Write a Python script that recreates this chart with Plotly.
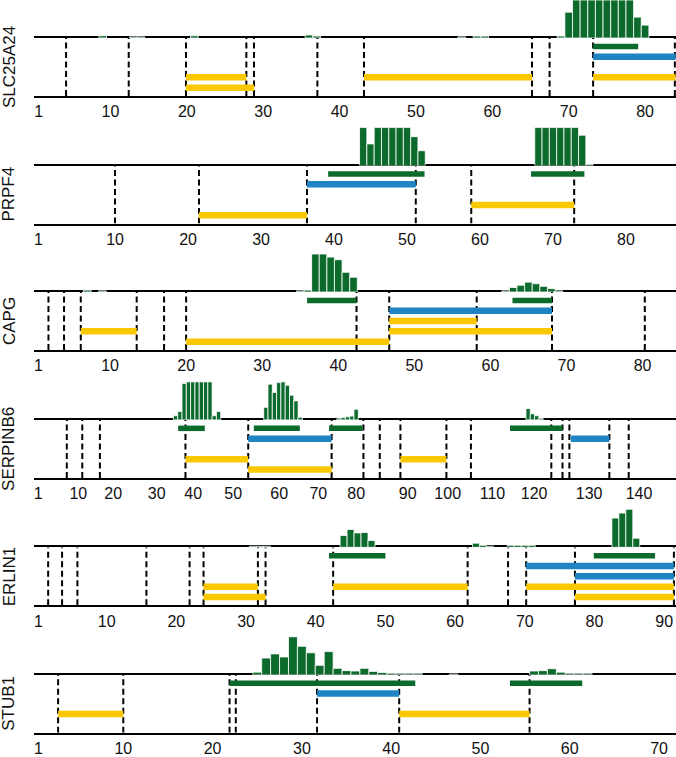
import plotly.graph_objects as go

# ---------------- data ----------------
genes = ["SLC25A24", "PRPF4", "CAPG", "SERPINB6", "ERLIN1", "STUB1"]

# SLC25A24
slc_hist_x = [9, 13, 14, 21, 36, 37, 56, 58, 59, 69, 70, 71, 72, 73, 74, 75, 76, 77, 78, 79, 80]
slc_hist_y = [0.06, 0.03, 0.03, 0.06, 0.08, 0.05, 0.03, 0.05, 0.05, 0.05, 0.68, 1, 1, 1, 1, 1, 1, 1, 1, 0.55, 0.34]
slc_dashes = [4.2, 12.4, 19.9, 27.8, 28.8, 37.1, 43.2, 65.2, 67.5, 73.2, 83.9]
slc_green = [(73.2, 79.1, 5)]
slc_blue = [(73.2, 84.0, 4)]
slc_yellow = [(19.9, 27.8, 2), (19.9, 28.8, 1), (43.2, 65.2, 2), (73.2, 84.0, 2)]

# PRPF4
prp_hist_x = [44, 45, 46, 47, 48, 49, 50, 51, 52, 68, 69, 70, 71, 72, 73, 74, 75]
prp_hist_y = [1, 0.57, 1, 1, 1, 1, 1, 0.76, 0.39, 1, 1, 1, 1, 1, 1, 0.8, 0.03]
prp_dashes = [10.0, 21.5, 36.3, 51.2, 58.8, 72.9]
prp_green = [(39.2, 52.4, 5), (67.0, 74.3, 5)]
prp_blue = [(36.3, 51.2, 4)]
prp_yellow = [(21.5, 36.3, 1), (58.8, 72.9, 2)]

# CAPG
cap_hist_x = [7, 9, 35, 36, 37, 38, 39, 40, 41, 42, 62, 63, 64, 65, 66, 67, 68, 69]
cap_hist_y = [0.05, 0.03, 0.03, 0.05, 1, 1, 0.92, 0.85, 0.52, 0.39, 0.03, 0.12, 0.18, 0.26, 0.22, 0.15, 0.09, 0.03]
cap_dashes = [1.9, 3.95, 6.15, 13.5, 17.1, 20.0, 42.4, 46.7, 58.2, 68.1, 80.3]
cap_green = [(35.9, 42.4, 5), (62.9, 68.1, 5)]
cap_blue = [(46.7, 68.1, 4)]
cap_yellow = [(6.15, 13.5, 2), (20.0, 46.7, 1), (46.7, 58.2, 3), (46.7, 68.1, 2)]

# SERPINB6
ser_hist_x = [33, 34, 35, 36, 37, 38, 39, 40, 41, 42, 43,
              54, 55, 56, 57, 58, 59, 60, 61, 62,
              71, 72, 73, 74, 75, 115, 116, 117, 118]
ser_hist_y = [0.11, 0.22, 0.96, 1, 1, 1, 1, 1, 1, 0.11, 0.22,
              0.33, 0.94, 0.72, 0.98, 1, 0.91, 0.65, 0.5, 0.07,
              0.03, 0.06, 0.08, 0.1, 0.28, 0.3, 0.16, 0.11, 0.04]
ser_dashes = [7.7, 11.3, 15.4, 35.3, 49.9, 69.3, 76.7, 80.5, 85.3, 96.0, 101.7, 120.4, 123.0, 124.6, 133.9, 138.4]
ser_green = [(33.6, 39.8, 5), (51.2, 61.9, 5), (68.7, 76.5, 5), (110.8, 123.0, 5)]
ser_blue = [(49.9, 69.3, 4), (124.95, 133.9, 4)]
ser_yellow = [(35.3, 49.9, 2), (85.3, 96.0, 2), (49.9, 69.3, 1)]

# ERLIN1
erl_hist_x = [31, 32, 33, 44, 45, 46, 47, 48, 63, 64, 65, 68, 69, 70, 71, 83, 84, 85, 86]
erl_hist_y = [0.03, 0.03, 0.03, 0.31, 0.47, 0.38, 0.39, 0.18, 0.11, 0.05, 0.03, 0.05, 0.05, 0.05, 0.05, 0.77, 0.9, 1.0, 0.24]
erl_dashes = [1.6, 3.6, 5.8, 15.7, 21.9, 23.9, 31.7, 32.8, 42.5, 61.8, 67.6, 70.2, 77.2, 91.4]
erl_green = [(41.9, 50.0, 5), (79.9, 88.7, 5)]
erl_blue = [(70.2, 91.4, 4), (77.2, 91.4, 3)]
erl_yellow = [(23.9, 31.7, 2), (23.9, 32.8, 1), (42.5, 61.8, 2), (70.2, 91.4, 2), (77.2, 91.4, 1)]

# STUB1
stu_hist_x = [25, 26, 27, 28, 29, 30, 31, 32, 33, 34, 35, 36, 37, 38, 39, 40, 41, 42, 43, 47,
              56, 57, 58, 59, 60, 61, 62]
stu_hist_y = [0.07, 0.44, 0.55, 0.47, 1.0, 0.75, 0.58, 0.25, 0.61, 0.17, 0.11, 0.1, 0.17, 0.09, 0.06, 0.04,
              0.03, 0.03, 0.03, 0.02, 0.1, 0.11, 0.16, 0.07, 0.04, 0.04, 0.04]
stu_dashes = [2.7, 10.0, 21.9, 22.6, 31.7, 40.9, 55.5]
stu_green = [(21.9, 42.7, 5), (53.3, 61.4, 5)]
stu_blue = [(31.7, 40.9, 4)]
stu_yellow = [(2.7, 10.0, 2), (40.9, 55.5, 2)]

# axis tick labels
ticks_80 = [10, 20, 30, 40, 50, 60, 70, 80]
ticks_140 = [10, 20, 30, 40, 50, 60, 70, 80, 90, 100, 110, 120, 130, 140]
ticks_90 = [10, 20, 30, 40, 50, 60, 70, 80, 90]
ticks_70 = [10, 20, 30, 40, 50, 60, 70]
# positions where the SERPINB6 labels sit in the reference
ser_tick_pos = [10.37, 18.5, 28.6, 37.1, 46.4, 57.1, 66.2, 75.0, 87.0, 96.3, 106.7, 116.4, 129.2, 140.8]

panels = [
    dict(hx=slc_hist_x, hy=slc_hist_y, d=slc_dashes, g=slc_green, b=slc_blue, yl=slc_yellow,
         xr=[0.0, 84.05], one=0.6, ticks=ticks_80, tpos=ticks_80),
    dict(hx=prp_hist_x, hy=prp_hist_y, d=prp_dashes, g=prp_green, b=prp_blue, yl=prp_yellow,
         xr=[-1.1, 86.85], one=-0.5, ticks=ticks_80, tpos=ticks_80),
    dict(hx=cap_hist_x, hy=cap_hist_y, d=cap_dashes, g=cap_green, b=cap_blue, yl=cap_yellow,
         xr=[0.0, 84.4], one=0.6, ticks=ticks_80, tpos=ticks_80),
    dict(hx=ser_hist_x, hy=ser_hist_y, d=ser_dashes, g=ser_green, b=ser_blue, yl=ser_yellow,
         xr=[0.07, 149.4], one=1.07, ticks=ticks_140, tpos=ser_tick_pos),
    dict(hx=erl_hist_x, hy=erl_hist_y, d=erl_dashes, g=erl_green, b=erl_blue, yl=erl_yellow,
         xr=[-0.43, 91.7], one=0.2, ticks=ticks_90, tpos=ticks_90),
    dict(hx=stu_hist_x, hy=stu_hist_y, d=stu_dashes, g=stu_green, b=stu_blue, yl=stu_yellow,
         xr=[0.0, 71.9], one=0.5, ticks=ticks_70, tpos=ticks_70),
]

# ---------------- styling / layout ----------------
W, H = 676, 757
GREEN = "#0b6a2c"
BLUE = "#1f84c4"
YELLOW = "#f9c800"
FONT = "Liberation Sans, Arial, Helvetica, sans-serif"
LEFT_PX = 34
BOX_TOPS = [38.3, 166.7, 294.0, 422.7, 551.0, 679.3]
BOX_H = 58.4
HIST_H = 38.3
YR = [0.18, 5.82]


def py(px):
    return 1 - px / H


fig = go.Figure()
layout = dict(width=W, height=H, margin=dict(l=0, r=0, t=0, b=0),
              paper_bgcolor="white", plot_bgcolor="rgba(0,0,0,0)",
              showlegend=False, font=dict(family=FONT, color="black"))
annotations = []

for i, p in enumerate(panels):
    xn = "" if i == 0 else str(i + 1)
    yb_n = 2 * i + 1
    yh_n = 2 * i + 2
    yb = "" if yb_n == 1 else str(yb_n)
    yh = str(yh_n)
    top = BOX_TOPS[i]
    bot = top + BOX_H
    htop = max(top - HIST_H, 0)

    layout["xaxis" + xn] = dict(
        domain=[LEFT_PX / W, 1], range=p["xr"], anchor="y" + yb,
        showline=True, mirror=True, linecolor="black", linewidth=2,
        showgrid=False, zeroline=False, ticks="",
        tickmode="array", tickvals=[p["one"]] + list(p["tpos"]),
        ticktext=["1"] + [str(t) for t in p["ticks"]],
        tickfont=dict(size=16, family=FONT, color="#111"),
    )
    layout["yaxis" + yb] = dict(
        domain=[py(bot), py(top)], range=YR, anchor="x" + xn,
        showline=False, showgrid=False, zeroline=False, showticklabels=False, ticks="",
    )
    layout["yaxis" + yh] = dict(
        domain=[py(top), py(htop) if htop > 0 else 1.0], range=[0, 1], anchor="x" + xn,
        visible=False,
    )

    # histogram
    fig.add_trace(go.Bar(x=p["hx"], y=[min(v, 1) for v in p["hy"]], width=1,
                         marker=dict(color=GREEN, line=dict(color="white", width=0.8)),
                         xaxis="x" + xn, yaxis="y" + yh, hoverinfo="skip"))
    # dashed lines
    dx, dy = [], []
    for d in p["d"]:
        dx += [d, d, None]
        dy += [YR[0], YR[1], None]
    fig.add_trace(go.Scatter(x=dx, y=dy, mode="lines",
                             line=dict(color="black", width=2, dash="6px,3.5px"),
                             xaxis="x" + xn, yaxis="y" + yb, hoverinfo="skip"))
    # horizontal segments
    for segs, col, wd in ((p["yl"], YELLOW, 6.5), (p["b"], BLUE, 6.5), (p["g"], GREEN, 5.5)):
        sx, sy = [], []
        for s, e, r in segs:
            sx += [s, e, None]
            sy += [r, r, None]
        fig.add_trace(go.Scatter(x=sx, y=sy, mode="lines",
                                 line=dict(color=col, width=wd),
                                 xaxis="x" + xn, yaxis="y" + yb, hoverinfo="skip"))

    annotations.append(dict(text=genes[i], textangle=-90, showarrow=False,
                            xref="paper", yref="paper", x=9 / W, y=py(top + BOX_H / 2),
                            xanchor="center", yanchor="middle",
                            font=dict(size=17, family=FONT, color="#111")))

layout["annotations"] = annotations
fig.update_layout(**layout)
fig.write_html("out.html", config={"displayModeBar": False},
               post_script="document.body.style.margin='0px';document.body.style.overflow='hidden';")
